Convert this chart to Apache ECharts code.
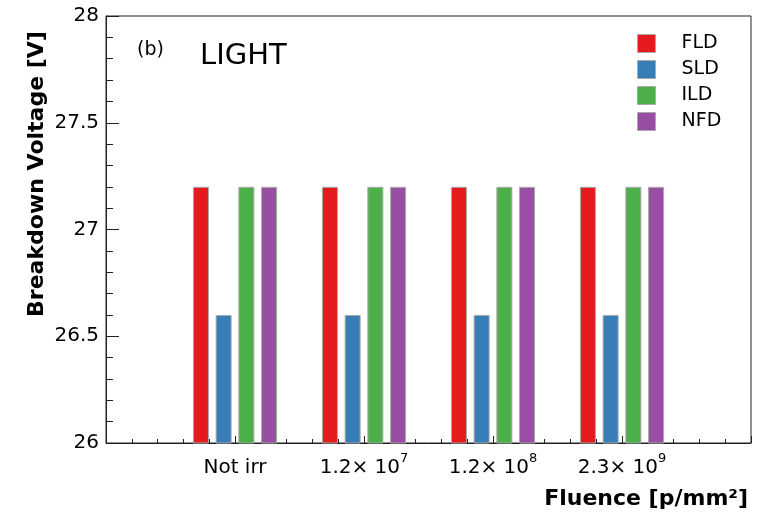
<!DOCTYPE html>
<html>
<head>
<meta charset="utf-8">
<script src="https://cdn.jsdelivr.net/npm/echarts@6/dist/echarts.min.js"></script>
<style>
  html, body { margin: 0; padding: 0; background: #fff; }
  #chart { width: 757px; height: 515px; }
</style>
</head>
<body>
<div id="chart"></div>
<script>
// Fluence points (exponents written after "^")
const categories = ['Not irr', '1.2× 10^7', '1.2× 10^8', '2.3× 10^9'];
const seriesNames = ['FLD', 'SLD', 'ILD', 'NFD'];
const fldValues = [27.2, 27.2, 27.2, 27.2];
const sldValues = [26.6, 26.6, 26.6, 26.6];
const ildValues = [27.2, 27.2, 27.2, 27.2];
const nfdValues = [27.2, 27.2, 27.2, 27.2];
const yTicks = [26, 26.5, 27, 27.5, 28];

const colors = ['#E41A1C', '#377EB8', '#4DAF4A', '#984EA3'];
const FONT = 'DejaVu Sans';

// pad the axis with an empty slot on each side so groups sit at 1/5 .. 4/5
const axisCats = [''].concat(categories, ['']);
const pad = arr => [null].concat(arr, [null]);
const allValues = [fldValues, sldValues, ildValues, nfdValues];

const chart = echarts.init(document.getElementById('chart'), null, { renderer: 'canvas' });

const option = {
  backgroundColor: '#fff',
  animation: false,
  grid: {
    left: 106, right: 6, top: 16, bottom: 72,
    show: true, borderColor: '#222', borderWidth: 1, backgroundColor: 'transparent'
  },
  legend: {
    orient: 'vertical',
    left: 637, top: 34,
    padding: 0,
    itemWidth: 18, itemHeight: 18, itemGap: 7,
    icon: 'rect',
    itemStyle: { borderColor: '#aaa', borderWidth: 1 },
    textStyle: { fontFamily: FONT, fontSize: 19, color: '#000', padding: [0, 0, 0, 21] },
    data: seriesNames
  },
  xAxis: [
    {
      type: 'category',
      data: axisCats,
      boundaryGap: false,
      axisLine: { show: true, lineStyle: { color: '#222' } },
      axisTick: { show: false },
      splitLine: { show: false },
      axisLabel: {
        interval: 0,
        margin: 9,
        color: '#000',
        fontFamily: FONT,
        formatter: function (v) {
          if (!v) return '';
          const parts = v.split('^');
          if (parts.length === 1) return '{b|' + v + '}';
          return '{b|' + parts[0] + '}{s|' + parts[1] + '}';
        },
        rich: {
          b: { fontFamily: FONT, fontSize: 20, color: '#000', lineHeight: 26, verticalAlign: 'bottom' },
          s: { fontFamily: FONT, fontSize: 13, color: '#000', lineHeight: 13, verticalAlign: 'top' }
        }
      }
    },
    {
      // tick marks along the bottom edge
      type: 'value',
      min: 0, max: 5, interval: 1,
      position: 'bottom',
      axisLine: { show: false },
      axisLabel: { show: false },
      splitLine: { show: false },
      axisTick: { show: true, inside: true, length: 7, lineStyle: { color: '#222' } },
      minorTick: { show: true, splitNumber: 5, length: 4, lineStyle: { color: '#222' } }
    }
  ],
  yAxis: {
    type: 'value',
    min: yTicks[0], max: yTicks[yTicks.length - 1], interval: 0.5,
    axisLine: { show: true, lineStyle: { color: '#222' } },
    axisTick: { show: true, inside: true, length: 13, lineStyle: { color: '#222' } },
    minorTick: { show: true, splitNumber: 5, length: 7, lineStyle: { color: '#222' } },
    splitLine: { show: false },
    axisLabel: { fontFamily: FONT, fontSize: 20, color: '#000', margin: 7 }
  },
  series: seriesNames.map((name, i) => ({
    name: name,
    type: 'bar',
    xAxisIndex: 0,
    data: pad(allValues[i]),
    barWidth: 16,
    barGap: '42%',
    clip: true,
    itemStyle: { color: colors[i], borderColor: '#aaa', borderWidth: 1 }
  })),
  graphic: [
    {
      type: 'text', x: 137, y: 41,
      style: { text: '(b)', font: '19px "DejaVu Sans"', fill: '#000' }
    },
    {
      type: 'text', x: 200, y: 42,
      style: { text: 'LIGHT', font: '29px "DejaVu Sans"', fill: '#000' }
    },
    {
      type: 'text', x: 37, y: 174, rotation: Math.PI / 2,
      style: { text: 'Breakdown Voltage [V]', font: 'bold 22px "DejaVu Sans"', fill: '#000',
               align: 'center', verticalAlign: 'middle' }
    },
    {
      type: 'text', x: 748, y: 499,
      style: { text: 'Fluence [p/mm²]', font: 'bold 22px "DejaVu Sans"', fill: '#000',
               align: 'right', verticalAlign: 'middle' }
    }
  ]
};

chart.setOption(option);
</script>
</body>
</html>
